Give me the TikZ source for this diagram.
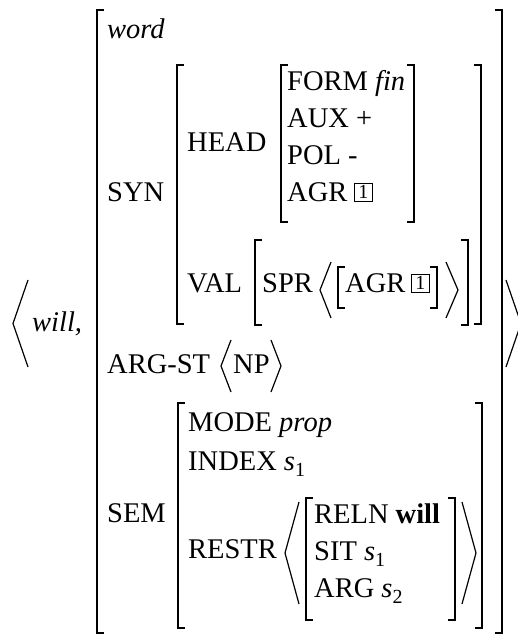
\documentclass[tikz,border=0pt]{standalone}
\usepackage{fontspec}
\setmainfont{Liberation Serif}
\newcommand\subsc[2]{{\itshape #1}\raisebox{-0.22em}{\fontsize{20}{20}\selectfont #2}}
\newcommand\LBr[3]{\draw[brk] ({#1+7},#2) -- (#1,#2) -- (#1,#3) -- ({#1+7},#3);}
\newcommand\RBr[3]{\draw[brk] ({#1-7},#2) -- (#1,#2) -- (#1,#3) -- ({#1-7},#3);}
\newcommand\Ang[4]{\draw[ang] (#1,#3) -- (#2,{(#3+#4)/2}) -- (#1,#4);}
\begin{document}
\begin{tikzpicture}[x=1pt,y=-1pt,
  txt/.style={anchor=base west,inner sep=0pt,font=\fontsize{28.5}{34}\selectfont},
  brk/.style={line width=2pt,line join=miter},
  ang/.style={line width=1.2pt,line join=miter},
  tag/.style={draw,line width=1.5pt,inner sep=0pt,minimum size=18pt,anchor=south west,font=\fontsize{20}{20}\selectfont}]
\useasboundingbox (0,0) rectangle (518,635);
% outer pair
\Ang{28}{13}{280}{367}
\node[txt] (will) at (32,331) {\itshape will,};
\Ang{506}{521}{280}{367}
% outer AVM
\LBr{97}{10}{633}
\RBr{502}{10}{633}
\node[txt] (word) at (107,38) {\itshape word};
% SYN
\node[txt] (syn) at (107,201) {SYN};
\LBr{177}{65}{324}
\RBr{481}{65}{324}
\node[txt] (head) at (187,151) {HEAD};
\LBr{281}{65}{222}
\RBr{414}{65}{222}
\node[txt] (form) at (287,90) {FORM {\itshape fin}};
\node[txt] (aux) at (287,127) {AUX +};
\node[txt] (pol) at (287,164) {POL -};
\node[txt] (agr) at (287,201) {AGR};
\node[tag] (tagA) at ([xshift=6pt,yshift=-1pt]agr.base east) {1};
\node[txt] (val) at (187,292) {VAL};
\LBr{255}{240}{325}
\RBr{468}{240}{325}
\node[txt] (spr) at (262,292) {SPR};
\Ang{331}{320}{262}{318}
\LBr{338}{267}{308}
\node[txt] (agr2) at (345,292) {AGR};
\node[tag] (tagB) at ([xshift=5pt,yshift=-1pt]agr2.base east) {1};
\RBr{437}{267}{308}
\Ang{446}{458}{262}{318}
% ARG-ST
\node[txt] (argst) at (107,373) {ARG-ST};
\Ang{231}{221}{340}{392}
\node[txt] (np) at (233,373) {NP};
\Ang{271}{281}{340}{392}
% SEM
\node[txt] (sem) at (107,522) {SEM};
\LBr{178}{403}{628}
\RBr{482}{403}{628}
\node[txt] (mode) at (188,431) {MODE {\itshape prop}};
\node[txt] (index) at (188,470) {INDEX \subsc{s}{1}};
\node[txt] (restr) at (188,558) {RESTR};
\Ang{299}{285}{502}{604}
\LBr{306}{498}{620}
\RBr{455}{498}{620}
\Ang{462}{476}{502}{604}
\node[txt] (reln) at (314,523) {RELN {\bfseries will}};
\node[txt] (sit) at (314,560) {SIT \subsc{s}{1}};
\node[txt] (arg) at (314,597) {ARG \subsc{s}{2}};
\end{tikzpicture}
\end{document}
